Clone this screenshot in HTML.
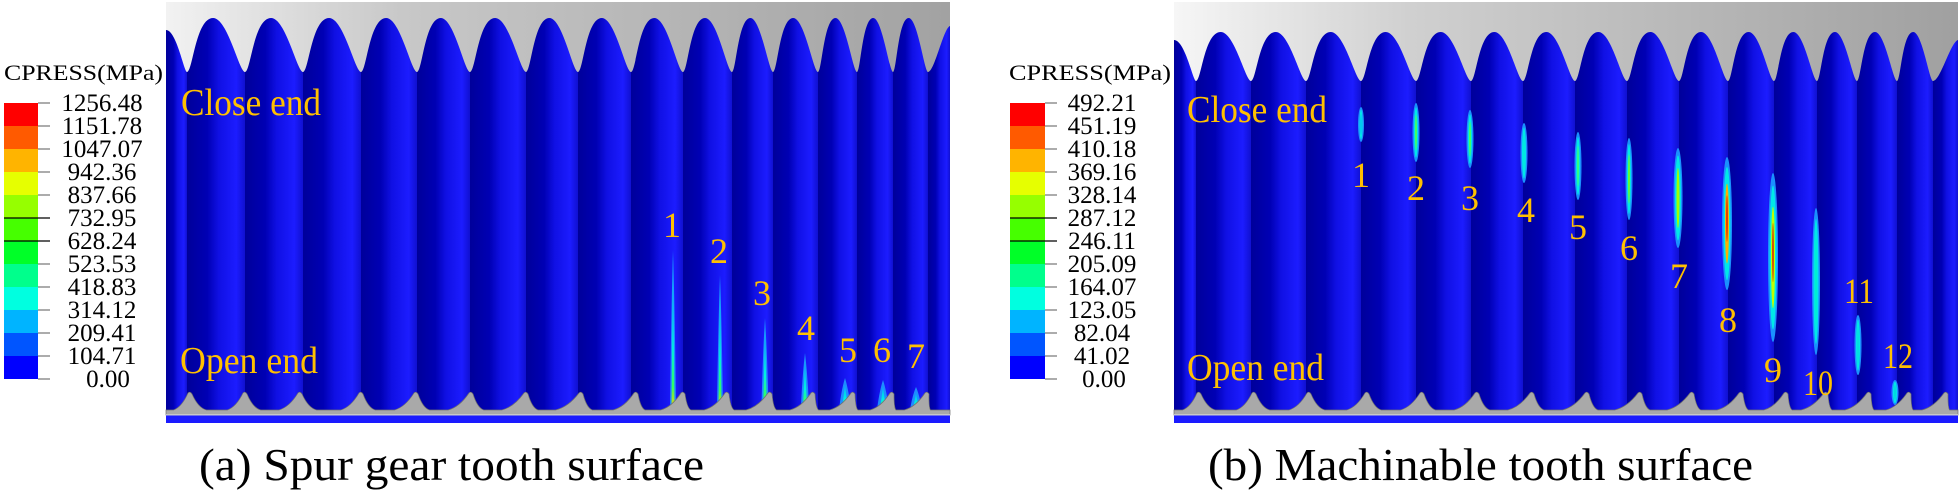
<!DOCTYPE html>
<html><head><meta charset="utf-8">
<style>
html,body{margin:0;padding:0;background:#fff;}
svg{display:block;}
text{font-family:"Liberation Serif",serif;}
.lbl{fill:#ffc000;font-size:36px;text-anchor:middle;}
.cb{fill:#000;font-size:25px;text-anchor:middle;}
</style></head>
<body>
<svg id="s" width="1960" height="494" viewBox="0 0 1960 494" xmlns="http://www.w3.org/2000/svg">
<defs>
<linearGradient id="stripe" x1="0" y1="0" x2="1" y2="0">
<stop offset="0" stop-color="#00009a"/><stop offset="0.35" stop-color="#0000b4"/>
<stop offset="0.55" stop-color="#1010e4"/><stop offset="0.85" stop-color="#1c1cff"/>
<stop offset="1" stop-color="#1010d0"/></linearGradient>
<linearGradient id="grayA" x1="0" y1="0" x2="1" y2="0">
<stop offset="0" stop-color="#f2f2f2"/><stop offset="0.3" stop-color="#c8c8c8"/><stop offset="1" stop-color="#a2a2a2"/></linearGradient>
<linearGradient id="grayB" x1="0" y1="0" x2="1" y2="0">
<stop offset="0" stop-color="#f6f6f6"/><stop offset="0.3" stop-color="#d0d0d0"/><stop offset="1" stop-color="#a0a0a0"/></linearGradient>
<linearGradient id="streak" x1="0" y1="0" x2="0" y2="1">
<stop offset="0" stop-color="#00b0ff"/><stop offset="0.6" stop-color="#00f0e0"/><stop offset="0.85" stop-color="#30ff60"/><stop offset="1" stop-color="#ffd000"/></linearGradient>
</defs>
<g id="shapes"></g>

<text x="4" y="80" font-size="22" textLength="159" lengthAdjust="spacingAndGlyphs">CPRESS(MPa)</text>
<g id="barA"></g>
<text class="cb" x="102" y="111">1256.48</text>
<text class="cb" x="102" y="134">1151.78</text>
<text class="cb" x="102" y="157">1047.07</text>
<text class="cb" x="102" y="180">942.36</text>
<text class="cb" x="102" y="203">837.66</text>
<text class="cb" x="102" y="226">732.95</text>
<text class="cb" x="102" y="249">628.24</text>
<text class="cb" x="102" y="272">523.53</text>
<text class="cb" x="102" y="295">418.83</text>
<text class="cb" x="102" y="318">314.12</text>
<text class="cb" x="102" y="341">209.41</text>
<text class="cb" x="102" y="364">104.71</text>
<text class="cb" x="108" y="387">0.00</text>

<text x="1009" y="80" font-size="22" textLength="162" lengthAdjust="spacingAndGlyphs">CPRESS(MPa)</text>
<g id="barB"></g>
<text class="cb" x="1102" y="111">492.21</text>
<text class="cb" x="1102" y="134">451.19</text>
<text class="cb" x="1102" y="157">410.18</text>
<text class="cb" x="1102" y="180">369.16</text>
<text class="cb" x="1102" y="203">328.14</text>
<text class="cb" x="1102" y="226">287.12</text>
<text class="cb" x="1102" y="249">246.11</text>
<text class="cb" x="1102" y="272">205.09</text>
<text class="cb" x="1102" y="295">164.07</text>
<text class="cb" x="1102" y="318">123.05</text>
<text class="cb" x="1102" y="341">82.04</text>
<text class="cb" x="1102" y="364">41.02</text>
<text class="cb" x="1104" y="387">0.00</text>

<text x="181" y="115" font-size="38" fill="#ffc000" textLength="140" lengthAdjust="spacingAndGlyphs">Close end</text>
<text x="180" y="373" font-size="38" fill="#ffc000" textLength="138" lengthAdjust="spacingAndGlyphs">Open end</text>
<text x="1187" y="122" font-size="38" fill="#ffc000" textLength="140" lengthAdjust="spacingAndGlyphs">Close end</text>
<text x="1187" y="380" font-size="38" fill="#ffc000" textLength="137" lengthAdjust="spacingAndGlyphs">Open end</text>

<text class="lbl" x="672" y="237">1</text>
<text class="lbl" x="719" y="263">2</text>
<text class="lbl" x="762" y="305">3</text>
<text class="lbl" x="806" y="340">4</text>
<text class="lbl" x="848" y="362">5</text>
<text class="lbl" x="882" y="362">6</text>
<text class="lbl" x="916" y="368">7</text>

<text class="lbl" x="1361" y="187">1</text>
<text class="lbl" x="1416" y="200">2</text>
<text class="lbl" x="1470" y="210">3</text>
<text class="lbl" x="1526" y="222">4</text>
<text class="lbl" x="1578" y="239">5</text>
<text class="lbl" x="1629" y="260">6</text>
<text class="lbl" x="1679" y="288">7</text>
<text class="lbl" x="1728" y="332">8</text>
<text class="lbl" x="1773" y="382">9</text>
<text class="lbl" x="1818" y="395" textLength="30" lengthAdjust="spacingAndGlyphs">10</text>
<text class="lbl" x="1859" y="303" textLength="30" lengthAdjust="spacingAndGlyphs">11</text>
<text class="lbl" x="1898" y="368" textLength="30" lengthAdjust="spacingAndGlyphs">12</text>

<text x="199" y="480" font-size="46" textLength="505" lengthAdjust="spacingAndGlyphs">(a) Spur gear tooth surface</text>
<text x="1208" y="480" font-size="46" textLength="545" lengthAdjust="spacingAndGlyphs">(b) Machinable tooth surface</text>
</svg>
<script>
(function(){
var NS="http://www.w3.org/2000/svg";
var g=document.getElementById("shapes");
function el(n,a,p){var e=document.createElementNS(NS,n);for(var k in a)e.setAttribute(k,a[k]);(p||g).appendChild(e);return e;}
function panel(x0,x1,topTips,tipY,peakY,leftY,botTips,grayId,spots){
  el("rect",{x:x0,y:2,width:x1-x0,height:421,fill:"#1414f0"});
  var b=[x0].concat(topTips).concat([x1]);
  for(var i=0;i<b.length-1;i++){
    el("rect",{x:b[i],y:2,width:b[i+1]-b[i],height:413,fill:"url(#stripe)"});
  }
  spots();
  var d="M"+x0+",2 L"+x0+","+leftY+" ";
  d+="C"+(x0+(topTips[0]-x0)*0.5)+","+leftY+" "+(topTips[0]-3)+","+tipY+" "+topTips[0]+","+tipY+" ";
  for(var i=0;i<topTips.length-1;i++){
    var a=topTips[i],c=topTips[i+1],p=c-a,m=a+p*0.45;
    d+="C"+(a+p*0.1)+","+tipY+" "+(m-p*0.3)+","+peakY+" "+m+","+peakY+" ";
    d+="C"+(m+p*0.25)+","+peakY+" "+(c-p*0.1)+","+tipY+" "+c+","+tipY+" ";
  }
  var last=topTips[topTips.length-1];
  var pl=x1-last;
  d+="C"+(last+pl*0.3)+","+tipY+" "+(x1-pl*0.3)+","+(peakY+10)+" "+x1+","+(peakY+8)+" L"+x1+",2 Z";
  el("path",{d:d,fill:"url(#"+grayId+")"});
  var base=410,tip=392,n=botTips.length;
  var d2="M"+x0+",415 L"+x0+","+base+" ";
  for(var i=0;i<n;i++){
    var x=botTips[i];
    var p=(i<n-1?botTips[i+1]-x:x-botTips[i-1]);
    var f=i/(n-1);
    var aL=0.3+0.35*f, bR=0.3-0.2*f;
    d2+="L"+(x-aL*p)+","+base+" Q"+(x-aL*p*0.5)+","+(base-3)+" "+(x-2)+","+(tip+1)+" Q"+x+","+(tip-1)+" "+(x+2)+","+(tip+2)+" Q"+(x+bR*p*0.5)+","+(base-2)+" "+(x+bR*p)+","+base+" ";
  }
  d2+="L"+x1+","+base+" L"+x1+",415 Z";
  el("path",{d:d2,fill:"#a9a9a9",stroke:"#707070","stroke-width":0.7});
  el("rect",{x:x0,y:415,width:x1-x0,height:8,fill:"#1a1aff"});
  el("rect",{x:x0,y:414,width:x1-x0,height:1.5,fill:"#c8c8c8"});
}
var st=[[673,250,5],[720,275,5],[765,318,6],[805,353,7],[845,378,10],[883,380,10],[916,387,10]];
function spotsA(){
  st.forEach(function(s){
    var x=s[0],t=s[1],w=s[2],bt=410;
    el("path",{d:"M"+x+","+t+" C"+(x+w*0.4)+","+(t+(bt-t)*0.4)+" "+(x+w*0.6)+","+bt+" "+(x+w*0.6)+","+bt+" L"+(x-w*0.6)+","+bt+" C"+(x-w*0.6)+","+bt+" "+(x-w*0.4)+","+(t+(bt-t)*0.4)+" "+x+","+t+"Z",fill:"#1e8cff"});
    el("path",{d:"M"+x+","+(t+6)+" L"+(x+w*0.3)+","+bt+" L"+(x-w*0.3)+","+bt+"Z",fill:"url(#streak)"});
  });
}
var el2=[[1361,107,142,4,"#00c8f0"],[1416,103,162,5,"#40ff60"],[1470,110,168,5,"#40ff60"],[1524,123,183,5,"#00e8e0"],
 [1578,132,200,5,"#30ff80"],[1629,138,220,5,"#60ff30"],[1678,148,248,7,"#a0ff00"],[1727,157,290,8,"#ffb000"],
 [1773,173,342,8,"#c0ff00"],[1816,208,355,6,"#00f0d0"],[1858,315,375,5,"#00e0e0"],[1895,380,405,5,"#00d8e0"]];
function spotsB(){
  el2.forEach(function(s){
    var cx=s[0],cy=(s[1]+s[2])/2,ry=(s[2]-s[1])/2,w=s[3];
    el("ellipse",{cx:cx,cy:cy,rx:w/2+1,ry:ry,fill:"#1a90ff"});
    el("ellipse",{cx:cx,cy:cy,rx:w/2-0.5,ry:ry*0.85,fill:"#00e8e8"});
    el("ellipse",{cx:cx,cy:cy,rx:Math.max(1,w/2-2),ry:ry*0.6,fill:s[4]});
    if(cx==1727||cx==1773) el("ellipse",{cx:cx,cy:cy-5,rx:0.8,ry:ry*0.35,fill:"#e02000"});
  });
}
panel(166,950,[187,245,303,361,417,470,526,578,631,683,732,773,818,857,893,928],72,18,30,
  [190,245,300,361,416,471,526,581,636,683,727,770,813,853,892,927],"grayA",spotsA);
panel(1174,1958,[1196,1251,1306,1361,1416,1471,1523,1575,1627,1679,1728,1774,1817,1857,1897,1933],81,32,40,
  [1199,1254,1309,1367,1422,1477,1532,1587,1640,1692,1741,1786,1826,1869,1909,1946],"grayB",spotsB);
var cols=["#ff0000","#ff5a00","#ffb400","#e6ff00","#96ff00","#46ff00","#00ff28","#00ff8c","#00ffe0","#00b4ff","#0055ff","#0000ff"];
function bar(x,w,id){
  var p=document.getElementById(id);
  for(var i=0;i<12;i++) el("rect",{x:x,y:103+23*i,width:w,height:23,fill:cols[i]},p);
  for(var i=0;i<=12;i++){
    var blk=(i==5||i==6);
    el("line",{x1:blk?x:x+w,x2:x+w+12,y1:103+23*i,y2:103+23*i,stroke:blk?"#000":"#808080","stroke-width":1.3},p);
  }
}
bar(4,34,"barA");bar(1010,35,"barB");
})();
</script>
</body></html>
